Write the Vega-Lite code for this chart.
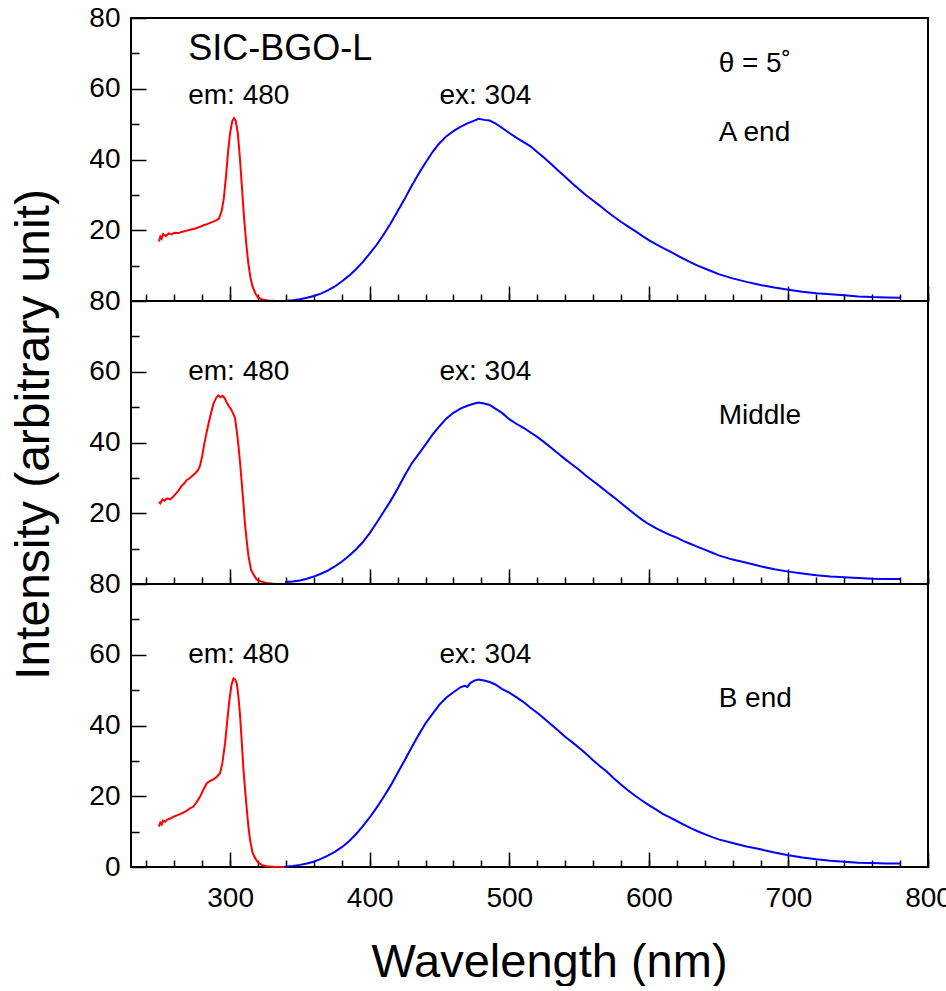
{
  "$schema": "https://vega.github.io/schema/vega-lite/v6.json",
  "background": "white",
  "padding": {"left": 9, "top": 3, "right": 0, "bottom": 0},
  "spacing": 0,
  "bounds": "flush",
  "config": {
    "font": "Liberation Sans",
    "view": {"stroke": "black", "strokeWidth": 2},
    "axis": {"labelFont": "Liberation Sans", "titleFont": "Liberation Sans", "labelColor": "black", "titleColor": "black", "grid": false, "domain": false, "tickColor": "black", "tickWidth": 1.5, "labelOverlap": false, "labelFlush": false, "labelBound": false}
  },
  "datasets": {
    "spectra": [
      {"p":"A","s":"ex","wl":249,"v":16.8},{"p":"A","s":"ex","wl":250,"v":18.2},{"p":"A","s":"ex","wl":251,"v":17.6},{"p":"A","s":"ex","wl":252,"v":18.9},{"p":"A","s":"ex","wl":254,"v":18.4},{"p":"A","s":"ex","wl":256,"v":19.1},{"p":"A","s":"ex","wl":258,"v":18.8},{"p":"A","s":"ex","wl":260,"v":19.3},{"p":"A","s":"ex","wl":263,"v":19.2},{"p":"A","s":"ex","wl":266,"v":19.6},{"p":"A","s":"ex","wl":269,"v":19.9},{"p":"A","s":"ex","wl":272,"v":20.2},{"p":"A","s":"ex","wl":275,"v":20.5},{"p":"A","s":"ex","wl":278,"v":20.9},{"p":"A","s":"ex","wl":281,"v":21.4},{"p":"A","s":"ex","wl":284,"v":21.8},{"p":"A","s":"ex","wl":287,"v":22.3},{"p":"A","s":"ex","wl":290,"v":22.8},{"p":"A","s":"ex","wl":292,"v":23.3},{"p":"A","s":"ex","wl":294,"v":25.5},{"p":"A","s":"ex","wl":295.5,"v":29},{"p":"A","s":"ex","wl":297,"v":35},{"p":"A","s":"ex","wl":298.5,"v":42},{"p":"A","s":"ex","wl":300,"v":47.5},{"p":"A","s":"ex","wl":301.5,"v":50.8},{"p":"A","s":"ex","wl":302.8,"v":51.7},{"p":"A","s":"ex","wl":304,"v":51.0},{"p":"A","s":"ex","wl":305.5,"v":47.5},{"p":"A","s":"ex","wl":307,"v":40.5},{"p":"A","s":"ex","wl":308.5,"v":32},{"p":"A","s":"ex","wl":310,"v":23.5},{"p":"A","s":"ex","wl":311.5,"v":16.5},{"p":"A","s":"ex","wl":313,"v":10.8},{"p":"A","s":"ex","wl":314.5,"v":6.8},{"p":"A","s":"ex","wl":316,"v":4.2},{"p":"A","s":"ex","wl":318,"v":2.2},{"p":"A","s":"ex","wl":320,"v":1.0},{"p":"A","s":"ex","wl":323,"v":0.4},{"p":"A","s":"ex","wl":327,"v":0.15},{"p":"A","s":"ex","wl":332,"v":0.05},{"p":"A","s":"ex","wl":339,"v":0.0},
      {"p":"A","s":"em","wl":339.5,"v":0.1},{"p":"A","s":"em","wl":345,"v":0.2},{"p":"A","s":"em","wl":350,"v":0.5},{"p":"A","s":"em","wl":355,"v":0.9},{"p":"A","s":"em","wl":360,"v":1.4},{"p":"A","s":"em","wl":365,"v":2.1},{"p":"A","s":"em","wl":370,"v":3.0},{"p":"A","s":"em","wl":375,"v":4.1},{"p":"A","s":"em","wl":380,"v":5.5},{"p":"A","s":"em","wl":385,"v":7.1},{"p":"A","s":"em","wl":390,"v":8.9},{"p":"A","s":"em","wl":395,"v":11.0},{"p":"A","s":"em","wl":400,"v":13.4},{"p":"A","s":"em","wl":405,"v":15.9},{"p":"A","s":"em","wl":410,"v":18.8},{"p":"A","s":"em","wl":415,"v":21.9},{"p":"A","s":"em","wl":420,"v":25.4},{"p":"A","s":"em","wl":425,"v":28.8},{"p":"A","s":"em","wl":430,"v":32.5},{"p":"A","s":"em","wl":435,"v":35.9},{"p":"A","s":"em","wl":440,"v":39.1},{"p":"A","s":"em","wl":445,"v":42.1},{"p":"A","s":"em","wl":450,"v":44.6},{"p":"A","s":"em","wl":455,"v":46.6},{"p":"A","s":"em","wl":460,"v":48.0},{"p":"A","s":"em","wl":465,"v":49.2},{"p":"A","s":"em","wl":470,"v":50.2},{"p":"A","s":"em","wl":475,"v":51.0},{"p":"A","s":"em","wl":478,"v":51.5},{"p":"A","s":"em","wl":482,"v":51.2},{"p":"A","s":"em","wl":486,"v":51.0},{"p":"A","s":"em","wl":490,"v":50.2},{"p":"A","s":"em","wl":495,"v":48.9},{"p":"A","s":"em","wl":500,"v":47.5},{"p":"A","s":"em","wl":505,"v":46.2},{"p":"A","s":"em","wl":510,"v":45.0},{"p":"A","s":"em","wl":515,"v":43.8},{"p":"A","s":"em","wl":520,"v":42.1},{"p":"A","s":"em","wl":525,"v":40.5},{"p":"A","s":"em","wl":530,"v":38.7},{"p":"A","s":"em","wl":535,"v":36.9},{"p":"A","s":"em","wl":540,"v":35.1},{"p":"A","s":"em","wl":545,"v":33.3},{"p":"A","s":"em","wl":550,"v":31.6},{"p":"A","s":"em","wl":555,"v":29.9},{"p":"A","s":"em","wl":560,"v":28.4},{"p":"A","s":"em","wl":565,"v":26.9},{"p":"A","s":"em","wl":570,"v":25.3},{"p":"A","s":"em","wl":575,"v":23.8},{"p":"A","s":"em","wl":580,"v":22.4},{"p":"A","s":"em","wl":585,"v":21.1},{"p":"A","s":"em","wl":590,"v":19.8},{"p":"A","s":"em","wl":595,"v":18.5},{"p":"A","s":"em","wl":600,"v":17.2},{"p":"A","s":"em","wl":605,"v":16.1},{"p":"A","s":"em","wl":610,"v":15.0},{"p":"A","s":"em","wl":615,"v":14.0},{"p":"A","s":"em","wl":620,"v":13.0},{"p":"A","s":"em","wl":625,"v":11.9},{"p":"A","s":"em","wl":630,"v":10.9},{"p":"A","s":"em","wl":635,"v":10.0},{"p":"A","s":"em","wl":640,"v":9.2},{"p":"A","s":"em","wl":645,"v":8.4},{"p":"A","s":"em","wl":650,"v":7.6},{"p":"A","s":"em","wl":660,"v":6.4},{"p":"A","s":"em","wl":670,"v":5.4},{"p":"A","s":"em","wl":680,"v":4.5},{"p":"A","s":"em","wl":690,"v":3.8},{"p":"A","s":"em","wl":700,"v":3.2},{"p":"A","s":"em","wl":710,"v":2.6},{"p":"A","s":"em","wl":720,"v":2.2},{"p":"A","s":"em","wl":730,"v":1.9},{"p":"A","s":"em","wl":740,"v":1.6},{"p":"A","s":"em","wl":750,"v":1.3},{"p":"A","s":"em","wl":760,"v":1.1},{"p":"A","s":"em","wl":770,"v":1.0},{"p":"A","s":"em","wl":780,"v":0.9},
      {"p":"B","s":"ex","wl":249,"v":23.2},{"p":"B","s":"ex","wl":250,"v":22.8},{"p":"B","s":"ex","wl":251.5,"v":23.9},{"p":"B","s":"ex","wl":253,"v":23.6},{"p":"B","s":"ex","wl":255,"v":24.2},{"p":"B","s":"ex","wl":257,"v":23.9},{"p":"B","s":"ex","wl":259,"v":24.6},{"p":"B","s":"ex","wl":261,"v":25.5},{"p":"B","s":"ex","wl":263,"v":26.4},{"p":"B","s":"ex","wl":265,"v":27.6},{"p":"B","s":"ex","wl":267,"v":28.4},{"p":"B","s":"ex","wl":269,"v":29.4},{"p":"B","s":"ex","wl":271,"v":29.9},{"p":"B","s":"ex","wl":273,"v":30.6},{"p":"B","s":"ex","wl":275,"v":31.3},{"p":"B","s":"ex","wl":277,"v":32.2},{"p":"B","s":"ex","wl":278.5,"v":33.5},{"p":"B","s":"ex","wl":280,"v":36.2},{"p":"B","s":"ex","wl":281.5,"v":39.6},{"p":"B","s":"ex","wl":283,"v":42.5},{"p":"B","s":"ex","wl":284.5,"v":45.3},{"p":"B","s":"ex","wl":286,"v":47.8},{"p":"B","s":"ex","wl":288,"v":50.9},{"p":"B","s":"ex","wl":290,"v":52.6},{"p":"B","s":"ex","wl":291.5,"v":53.3},{"p":"B","s":"ex","wl":293,"v":52.8},{"p":"B","s":"ex","wl":294.5,"v":53.2},{"p":"B","s":"ex","wl":296,"v":52.6},{"p":"B","s":"ex","wl":297.5,"v":51.4},{"p":"B","s":"ex","wl":299,"v":50.3},{"p":"B","s":"ex","wl":300.5,"v":49.5},{"p":"B","s":"ex","wl":302,"v":48.3},{"p":"B","s":"ex","wl":303.5,"v":47.0},{"p":"B","s":"ex","wl":305,"v":42.5},{"p":"B","s":"ex","wl":306,"v":39.0},{"p":"B","s":"ex","wl":307.2,"v":34.0},{"p":"B","s":"ex","wl":308.4,"v":28.3},{"p":"B","s":"ex","wl":309.6,"v":22.5},{"p":"B","s":"ex","wl":310.7,"v":16.8},{"p":"B","s":"ex","wl":312,"v":11.8},{"p":"B","s":"ex","wl":313.1,"v":8.0},{"p":"B","s":"ex","wl":315,"v":4.0},{"p":"B","s":"ex","wl":317,"v":2.5},{"p":"B","s":"ex","wl":319,"v":1.3},{"p":"B","s":"ex","wl":321.5,"v":0.8},{"p":"B","s":"ex","wl":326,"v":0.3},{"p":"B","s":"ex","wl":331,"v":0.1},{"p":"B","s":"ex","wl":339,"v":0.0},
      {"p":"B","s":"em","wl":339.5,"v":0.6},{"p":"B","s":"em","wl":345,"v":0.7},{"p":"B","s":"em","wl":350,"v":1.0},{"p":"B","s":"em","wl":355,"v":1.5},{"p":"B","s":"em","wl":360,"v":2.1},{"p":"B","s":"em","wl":365,"v":2.9},{"p":"B","s":"em","wl":370,"v":3.8},{"p":"B","s":"em","wl":375,"v":5.0},{"p":"B","s":"em","wl":380,"v":6.3},{"p":"B","s":"em","wl":385,"v":7.9},{"p":"B","s":"em","wl":390,"v":9.7},{"p":"B","s":"em","wl":395,"v":11.8},{"p":"B","s":"em","wl":400,"v":14.4},{"p":"B","s":"em","wl":405,"v":17.3},{"p":"B","s":"em","wl":410,"v":20.4},{"p":"B","s":"em","wl":415,"v":23.5},{"p":"B","s":"em","wl":420,"v":26.9},{"p":"B","s":"em","wl":425,"v":30.6},{"p":"B","s":"em","wl":430,"v":34.0},{"p":"B","s":"em","wl":435,"v":36.7},{"p":"B","s":"em","wl":440,"v":39.4},{"p":"B","s":"em","wl":445,"v":42.2},{"p":"B","s":"em","wl":450,"v":44.6},{"p":"B","s":"em","wl":455,"v":46.8},{"p":"B","s":"em","wl":460,"v":48.4},{"p":"B","s":"em","wl":465,"v":49.6},{"p":"B","s":"em","wl":470,"v":50.4},{"p":"B","s":"em","wl":475,"v":51.0},{"p":"B","s":"em","wl":478,"v":51.3},{"p":"B","s":"em","wl":482,"v":51.0},{"p":"B","s":"em","wl":486,"v":50.6},{"p":"B","s":"em","wl":490,"v":49.6},{"p":"B","s":"em","wl":495,"v":48.3},{"p":"B","s":"em","wl":500,"v":46.6},{"p":"B","s":"em","wl":505,"v":45.3},{"p":"B","s":"em","wl":510,"v":44.2},{"p":"B","s":"em","wl":515,"v":42.9},{"p":"B","s":"em","wl":520,"v":41.6},{"p":"B","s":"em","wl":525,"v":40.1},{"p":"B","s":"em","wl":530,"v":38.5},{"p":"B","s":"em","wl":535,"v":36.9},{"p":"B","s":"em","wl":540,"v":35.3},{"p":"B","s":"em","wl":545,"v":33.8},{"p":"B","s":"em","wl":550,"v":32.3},{"p":"B","s":"em","wl":555,"v":30.6},{"p":"B","s":"em","wl":560,"v":29.1},{"p":"B","s":"em","wl":565,"v":27.6},{"p":"B","s":"em","wl":570,"v":26.0},{"p":"B","s":"em","wl":575,"v":24.5},{"p":"B","s":"em","wl":580,"v":22.9},{"p":"B","s":"em","wl":585,"v":21.3},{"p":"B","s":"em","wl":590,"v":19.7},{"p":"B","s":"em","wl":595,"v":18.2},{"p":"B","s":"em","wl":600,"v":16.9},{"p":"B","s":"em","wl":605,"v":15.8},{"p":"B","s":"em","wl":610,"v":14.8},{"p":"B","s":"em","wl":615,"v":13.9},{"p":"B","s":"em","wl":620,"v":13.1},{"p":"B","s":"em","wl":625,"v":12.1},{"p":"B","s":"em","wl":630,"v":11.3},{"p":"B","s":"em","wl":635,"v":10.5},{"p":"B","s":"em","wl":640,"v":9.7},{"p":"B","s":"em","wl":645,"v":8.9},{"p":"B","s":"em","wl":650,"v":8.1},{"p":"B","s":"em","wl":660,"v":6.9},{"p":"B","s":"em","wl":670,"v":6.0},{"p":"B","s":"em","wl":680,"v":5.0},{"p":"B","s":"em","wl":690,"v":4.2},{"p":"B","s":"em","wl":700,"v":3.5},{"p":"B","s":"em","wl":710,"v":3.0},{"p":"B","s":"em","wl":720,"v":2.5},{"p":"B","s":"em","wl":730,"v":2.1},{"p":"B","s":"em","wl":740,"v":1.9},{"p":"B","s":"em","wl":750,"v":1.7},{"p":"B","s":"em","wl":760,"v":1.5},{"p":"B","s":"em","wl":770,"v":1.4},{"p":"B","s":"em","wl":780,"v":1.4},
      {"p":"C","s":"ex","wl":249,"v":11.4},{"p":"C","s":"ex","wl":250,"v":12.6},{"p":"C","s":"ex","wl":251,"v":12.0},{"p":"C","s":"ex","wl":252,"v":13.1},{"p":"C","s":"ex","wl":253.5,"v":12.8},{"p":"C","s":"ex","wl":255,"v":13.4},{"p":"C","s":"ex","wl":257,"v":13.7},{"p":"C","s":"ex","wl":259.4,"v":14.2},{"p":"C","s":"ex","wl":262,"v":14.6},{"p":"C","s":"ex","wl":264.5,"v":15.0},{"p":"C","s":"ex","wl":266.5,"v":15.4},{"p":"C","s":"ex","wl":269,"v":15.9},{"p":"C","s":"ex","wl":271,"v":16.5},{"p":"C","s":"ex","wl":273.7,"v":17.1},{"p":"C","s":"ex","wl":276,"v":18.3},{"p":"C","s":"ex","wl":278.5,"v":19.9},{"p":"C","s":"ex","wl":281,"v":22.0},{"p":"C","s":"ex","wl":283.3,"v":23.7},{"p":"C","s":"ex","wl":285.5,"v":24.3},{"p":"C","s":"ex","wl":288,"v":24.8},{"p":"C","s":"ex","wl":290.5,"v":25.5},{"p":"C","s":"ex","wl":292.8,"v":26.5},{"p":"C","s":"ex","wl":294.5,"v":29.5},{"p":"C","s":"ex","wl":296.4,"v":35.0},{"p":"C","s":"ex","wl":298,"v":41.5},{"p":"C","s":"ex","wl":299.5,"v":47.2},{"p":"C","s":"ex","wl":301,"v":51.5},{"p":"C","s":"ex","wl":302.4,"v":53.3},{"p":"C","s":"ex","wl":303.6,"v":53.0},{"p":"C","s":"ex","wl":304.8,"v":51.9},{"p":"C","s":"ex","wl":306,"v":48.0},{"p":"C","s":"ex","wl":307.2,"v":42.5},{"p":"C","s":"ex","wl":308.4,"v":35.0},{"p":"C","s":"ex","wl":309.6,"v":27.4},{"p":"C","s":"ex","wl":310.8,"v":21.5},{"p":"C","s":"ex","wl":312,"v":16.1},{"p":"C","s":"ex","wl":313.1,"v":11.5},{"p":"C","s":"ex","wl":314.3,"v":7.6},{"p":"C","s":"ex","wl":316,"v":4.2},{"p":"C","s":"ex","wl":317.9,"v":2.5},{"p":"C","s":"ex","wl":320,"v":1.3},{"p":"C","s":"ex","wl":322.6,"v":0.6},{"p":"C","s":"ex","wl":326,"v":0.2},{"p":"C","s":"ex","wl":331,"v":0.05},{"p":"C","s":"ex","wl":339,"v":0.0},
      {"p":"C","s":"em","wl":339.5,"v":0.1},{"p":"C","s":"em","wl":345,"v":0.3},{"p":"C","s":"em","wl":350,"v":0.6},{"p":"C","s":"em","wl":355,"v":1.0},{"p":"C","s":"em","wl":360,"v":1.5},{"p":"C","s":"em","wl":365,"v":2.3},{"p":"C","s":"em","wl":370,"v":3.2},{"p":"C","s":"em","wl":375,"v":4.3},{"p":"C","s":"em","wl":380,"v":5.6},{"p":"C","s":"em","wl":385,"v":7.2},{"p":"C","s":"em","wl":390,"v":9.2},{"p":"C","s":"em","wl":395,"v":11.5},{"p":"C","s":"em","wl":400,"v":14.0},{"p":"C","s":"em","wl":405,"v":16.8},{"p":"C","s":"em","wl":410,"v":19.8},{"p":"C","s":"em","wl":415,"v":23.0},{"p":"C","s":"em","wl":420,"v":26.6},{"p":"C","s":"em","wl":425,"v":30.1},{"p":"C","s":"em","wl":430,"v":33.8},{"p":"C","s":"em","wl":435,"v":37.3},{"p":"C","s":"em","wl":440,"v":40.6},{"p":"C","s":"em","wl":445,"v":43.3},{"p":"C","s":"em","wl":450,"v":45.9},{"p":"C","s":"em","wl":455,"v":47.9},{"p":"C","s":"em","wl":460,"v":49.4},{"p":"C","s":"em","wl":465,"v":50.8},{"p":"C","s":"em","wl":468,"v":51.2},{"p":"C","s":"em","wl":470,"v":50.9},{"p":"C","s":"em","wl":472,"v":52.0},{"p":"C","s":"em","wl":475,"v":52.7},{"p":"C","s":"em","wl":478,"v":53.0},{"p":"C","s":"em","wl":482,"v":52.7},{"p":"C","s":"em","wl":486,"v":52.3},{"p":"C","s":"em","wl":490,"v":51.6},{"p":"C","s":"em","wl":495,"v":50.3},{"p":"C","s":"em","wl":500,"v":49.3},{"p":"C","s":"em","wl":505,"v":48.0},{"p":"C","s":"em","wl":510,"v":46.7},{"p":"C","s":"em","wl":515,"v":45.1},{"p":"C","s":"em","wl":520,"v":43.6},{"p":"C","s":"em","wl":525,"v":42.0},{"p":"C","s":"em","wl":530,"v":40.3},{"p":"C","s":"em","wl":535,"v":38.6},{"p":"C","s":"em","wl":540,"v":36.8},{"p":"C","s":"em","wl":545,"v":35.3},{"p":"C","s":"em","wl":550,"v":33.7},{"p":"C","s":"em","wl":555,"v":32.0},{"p":"C","s":"em","wl":560,"v":30.2},{"p":"C","s":"em","wl":565,"v":28.5},{"p":"C","s":"em","wl":570,"v":26.9},{"p":"C","s":"em","wl":575,"v":25.0},{"p":"C","s":"em","wl":580,"v":23.3},{"p":"C","s":"em","wl":585,"v":21.7},{"p":"C","s":"em","wl":590,"v":20.2},{"p":"C","s":"em","wl":595,"v":18.8},{"p":"C","s":"em","wl":600,"v":17.5},{"p":"C","s":"em","wl":605,"v":16.3},{"p":"C","s":"em","wl":610,"v":15.0},{"p":"C","s":"em","wl":615,"v":14.0},{"p":"C","s":"em","wl":620,"v":13.0},{"p":"C","s":"em","wl":625,"v":12.0},{"p":"C","s":"em","wl":630,"v":11.0},{"p":"C","s":"em","wl":635,"v":10.1},{"p":"C","s":"em","wl":640,"v":9.3},{"p":"C","s":"em","wl":645,"v":8.5},{"p":"C","s":"em","wl":650,"v":7.8},{"p":"C","s":"em","wl":660,"v":6.8},{"p":"C","s":"em","wl":670,"v":5.8},{"p":"C","s":"em","wl":680,"v":5.0},{"p":"C","s":"em","wl":690,"v":4.1},{"p":"C","s":"em","wl":700,"v":3.3},{"p":"C","s":"em","wl":710,"v":2.7},{"p":"C","s":"em","wl":720,"v":2.2},{"p":"C","s":"em","wl":730,"v":1.8},{"p":"C","s":"em","wl":740,"v":1.5},{"p":"C","s":"em","wl":750,"v":1.2},{"p":"C","s":"em","wl":760,"v":1.1},{"p":"C","s":"em","wl":770,"v":1.0},{"p":"C","s":"em","wl":780,"v":1.0}
    ],
    "labels": [
      {"p":"A","x":270,"y":58,"t":"em: 480"},{"p":"A","x":450,"y":58,"t":"ex: 304"},{"p":"A","x":650,"y":67,"t":"θ = 5˚"},{"p":"A","x":650,"y":47.5,"t":"A end"},
      {"p":"B","x":270,"y":60,"t":"em: 480"},{"p":"B","x":450,"y":60,"t":"ex: 304"},{"p":"B","x":650,"y":47.5,"t":"Middle"},
      {"p":"C","x":270,"y":60,"t":"em: 480"},{"p":"C","x":450,"y":60,"t":"ex: 304"},{"p":"C","x":650,"y":47.5,"t":"B end"}
    ],
    "heading": [{"p":"A","x":270,"y":71.3,"t":"SIC-BGO-L"}]
  },
  "vconcat": [
    {
      "width": 797, "height": 283,
      "resolve": {"axis": {"x": "independent", "y": "independent"}},
      "layer": [
        {
          "data": {"name": "spectra"},
          "transform": [{"filter": "datum.p === 'A'"}],
          "mark": {"type": "line", "strokeWidth": 2},
          "encoding": {
            "x": {"field": "wl", "type": "quantitative", "scale": {"domain": [229, 800], "nice": false, "zero": false},
                  "axis": {"orient": "bottom", "values": [300,400,500,600,700,800], "labels": false, "title": null, "tickSize": -15}},
            "y": {"field": "v", "type": "quantitative", "scale": {"domain": [0, 80], "nice": false},
                  "axis": {"orient": "left", "values": [20,40,60,80], "labelFontSize": 28, "labelPadding": 26, "title": null, "tickSize": -15}},
            "color": {"field": "s", "type": "nominal", "scale": {"domain": ["ex", "em"], "range": ["#ff0000", "#0000ff"]}, "legend": null}
          }
        },
        {
          "data": {"name": "labels"},
          "transform": [{"filter": "datum.p === 'A'"}],
          "mark": {"type": "text", "align": "left", "baseline": "middle", "fontSize": 28, "font": "Liberation Sans", "color": "black"},
          "encoding": {
            "x": {"field": "x", "type": "quantitative", "scale": {"domain": [229, 800], "nice": false, "zero": false},
                  "axis": {"orient": "bottom", "values": [240,260,280,300,320,340,360,380,400,420,440,460,480,500,520,540,560,580,600,620,640,660,680,700,720,740,760,780,800], "labels": false, "title": null, "tickSize": -7}},
            "y": {"field": "y", "type": "quantitative", "scale": {"domain": [0, 80], "nice": false},
                  "axis": {"orient": "left", "values": [10,30,50,70], "labels": false, "title": null, "tickSize": -8}},
            "text": {"field": "t"}
          }
        },
        {
          "data": {"name": "heading"},
          "mark": {"type": "text", "align": "left", "baseline": "middle", "fontSize": 36, "font": "Liberation Sans", "color": "black"},
          "encoding": {
            "x": {"field": "x", "type": "quantitative", "axis": null},
            "y": {"field": "y", "type": "quantitative", "axis": null},
            "text": {"field": "t"}
          }
        }
      ]
    },
    {
      "width": 797, "height": 283,
      "resolve": {"axis": {"x": "independent", "y": "independent"}},
      "layer": [
        {
          "data": {"name": "spectra"},
          "transform": [{"filter": "datum.p === 'B'"}],
          "mark": {"type": "line", "strokeWidth": 2},
          "encoding": {
            "x": {"field": "wl", "type": "quantitative", "scale": {"domain": [229, 800], "nice": false, "zero": false},
                  "axis": {"orient": "bottom", "values": [300,400,500,600,700,800], "labels": false, "title": null, "tickSize": -15}},
            "y": {"field": "v", "type": "quantitative", "scale": {"domain": [0, 80], "nice": false},
                  "axis": {"orient": "left", "values": [20,40,60,80], "labelFontSize": 28, "labelPadding": 26, "title": "Intensity (arbitrary unit)", "titleFontSize": 48, "titleFontWeight": "normal", "titlePadding": 30, "titleY": 133, "tickSize": -15}},
            "color": {"field": "s", "type": "nominal", "scale": {"domain": ["ex", "em"], "range": ["#ff0000", "#0000ff"]}, "legend": null}
          }
        },
        {
          "data": {"name": "labels"},
          "transform": [{"filter": "datum.p === 'B'"}],
          "mark": {"type": "text", "align": "left", "baseline": "middle", "fontSize": 28, "font": "Liberation Sans", "color": "black"},
          "encoding": {
            "x": {"field": "x", "type": "quantitative", "scale": {"domain": [229, 800], "nice": false, "zero": false},
                  "axis": {"orient": "bottom", "values": [240,260,280,300,320,340,360,380,400,420,440,460,480,500,520,540,560,580,600,620,640,660,680,700,720,740,760,780,800], "labels": false, "title": null, "tickSize": -7}},
            "y": {"field": "y", "type": "quantitative", "scale": {"domain": [0, 80], "nice": false},
                  "axis": {"orient": "left", "values": [10,30,50,70], "labels": false, "title": null, "tickSize": -8}},
            "text": {"field": "t"}
          }
        }
      ]
    },
    {
      "width": 797, "height": 283,
      "resolve": {"axis": {"x": "independent", "y": "independent"}},
      "layer": [
        {
          "data": {"name": "spectra"},
          "transform": [{"filter": "datum.p === 'C'"}],
          "mark": {"type": "line", "strokeWidth": 2},
          "encoding": {
            "x": {"field": "wl", "type": "quantitative", "scale": {"domain": [229, 800], "nice": false, "zero": false},
                  "axis": {"orient": "bottom", "values": [300,400,500,600,700,800], "labelFontSize": 28, "labelPadding": 32, "title": "Wavelength (nm)", "titleFontSize": 47, "titleFontWeight": "normal", "titlePadding": 27, "titleX": 418, "tickSize": -15}},
            "y": {"field": "v", "type": "quantitative", "scale": {"domain": [0, 80], "nice": false},
                  "axis": {"orient": "left", "values": [0,20,40,60,80], "labelFontSize": 28, "labelPadding": 26, "title": null, "tickSize": -15}},
            "color": {"field": "s", "type": "nominal", "scale": {"domain": ["ex", "em"], "range": ["#ff0000", "#0000ff"]}, "legend": null}
          }
        },
        {
          "data": {"name": "labels"},
          "transform": [{"filter": "datum.p === 'C'"}],
          "mark": {"type": "text", "align": "left", "baseline": "middle", "fontSize": 28, "font": "Liberation Sans", "color": "black"},
          "encoding": {
            "x": {"field": "x", "type": "quantitative", "scale": {"domain": [229, 800], "nice": false, "zero": false},
                  "axis": {"orient": "bottom", "values": [240,260,280,300,320,340,360,380,400,420,440,460,480,500,520,540,560,580,600,620,640,660,680,700,720,740,760,780,800], "labels": false, "title": null, "tickSize": -7}},
            "y": {"field": "y", "type": "quantitative", "scale": {"domain": [0, 80], "nice": false},
                  "axis": {"orient": "left", "values": [10,30,50,70], "labels": false, "title": null, "tickSize": -8}},
            "text": {"field": "t"}
          }
        }
      ]
    }
  ]
}
